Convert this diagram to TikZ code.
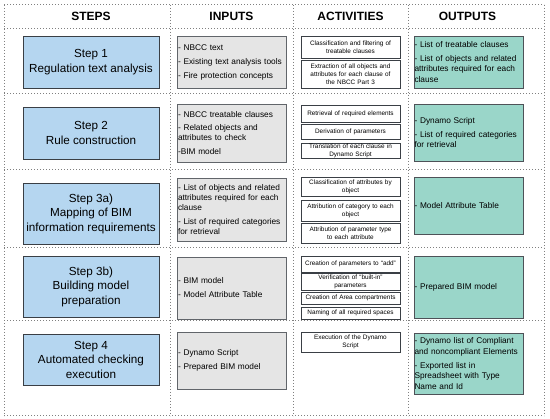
\documentclass[tikz,border=0pt]{standalone}
\usepackage{fontspec}
\setmainfont{Liberation Sans}
\hyphenpenalty=10000
\exhyphenpenalty=10000
\definecolor{stepfill}{HTML}{B5D6F0}
\definecolor{outfill}{HTML}{9AD6C9}
\definecolor{infill}{HTML}{E5E5E5}
\definecolor{boxline}{HTML}{3A3F45}
\definecolor{gridline}{HTML}{808080}
\begin{document}
\begin{tikzpicture}[x=1pt,y=-1pt,
  gridl/.style={draw=gridline, line width=1pt, dash pattern=on 1pt off 2pt},
  hdr/.style={font=\fontsize{12}{14}\selectfont\bfseries, inner sep=0pt},
  stepbox/.style={draw=boxline, line width=0.9pt, fill=stepfill, minimum width=136pt, inner sep=0pt, align=center, font=\fontsize{11.7}{14.5}\selectfont},
  inbox/.style={draw=boxline!80, line width=0.9pt, fill=infill, minimum width=109pt, text width=107pt, inner xsep=1pt, inner ysep=0pt, align=left, font=\fontsize{8.3}{10}\selectfont},
  actbox/.style={draw=boxline, line width=0.9pt, fill=white, minimum width=99pt, text width=99pt, inner xsep=0pt, inner ysep=0pt, align=center, font=\fontsize{6.4}{8}\selectfont},
  outbox/.style={draw=boxline!90, line width=0.9pt, fill=outfill, minimum width=109pt, text width=108pt, inner xsep=0.5pt, inner ysep=0pt, align=left, font=\fontsize{8.3}{10.5}\selectfont}
]
\useasboundingbox (0,0) rectangle (550,419);
% grid
\foreach \yy in {5,29,94,170,248,321,416} \draw[gridl] (4,\yy) -- (544,\yy);
\foreach \xx in {4,170,293,408,544} \draw[gridl] (\xx,5) -- (\xx,416);
% headers
\node[hdr] (h1) at (91,16.5) {STEPS};
\node[hdr] (h2) at (231.5,16.5) {INPUTS};
\node[hdr] (h3) at (350.5,16.5) {ACTIVITIES};
\node[hdr] (h4) at (467.5,16.5) {OUTPUTS};
% steps
\node[stepbox, minimum height=52pt] (s1) at (91,62) {Step 1\\Regulation text analysis};
\node[stepbox, minimum height=52pt] (s2) at (91,133) {Step 2\\Rule construction};
\node[stepbox, minimum height=61pt] (s3) at (91,213.5) {Step 3a)\\Mapping of BIM\\information requirements};
\node[stepbox, minimum height=61pt] (s4) at (91,286.5) {Step 3b)\\Building model\\preparation};
\node[stepbox, minimum height=51pt] (s5) at (91,359.5) {Step 4\\Automated checking\\execution};
% inputs
\node[inbox, minimum height=52pt] (i1) at (231.5,62) {- NBCC text\\[4pt]- Existing text analysis tools\\[4pt]- Fire protection concepts};
\node[inbox, minimum height=58pt] (i2) at (231.5,133) {- NBCC treatable clauses\\[3pt]- Related objects and\\attributes to check\\[3.5pt]-BIM model};
\node[inbox, minimum height=63pt] (i3) at (231.5,209.5) {- List of objects and related\\attributes required for each\\clause\\[4.5pt]- List of required categories\\for retrieval};
\node[inbox, minimum height=62pt] (i4) at (231.5,288) {- BIM model\\[4pt]- Model Attribute Table};
\node[inbox, minimum height=57pt] (i5) at (231.5,360.5) {- Dynamo Script\\[4pt]- Prepared BIM model};
% activities
\node[actbox, minimum height=22pt] (a11) at (350.5,47) {Classification and filtering of\\treatable clauses};
\node[actbox, minimum height=28pt] (a12) at (350.5,74) {Extraction of all objects and\\attributes for each clause of\\the NBCC Part 3};
\node[actbox, minimum height=17pt] (a21) at (350.5,113.5) {Retrieval of required elements};
\node[actbox, minimum height=15pt] (a22) at (350.5,131.5) {Derivation of parameters};
\node[actbox, minimum height=15pt] (a23) at (350.5,150.5) {Translation of each clause in\\Dynamo Script};
\node[actbox, minimum height=19pt] (a31) at (350.5,186.5) {Classification of attributes by\\object};
\node[actbox, minimum height=21pt] (a32) at (350.5,210.5) {Attribution of category to each\\object};
\node[actbox, minimum height=20pt] (a33) at (350.5,233) {Attribution of parameter type\\to each attribute};
\node[actbox, minimum height=16pt] (a41) at (350.5,264) {Creation of parameters to ``add''};
\node[actbox, minimum height=17pt] (a42) at (350.5,281.5) {Verification of ``built-in''\\parameters};
\node[actbox, minimum height=12pt] (a43) at (350.5,298) {Creation of Area compartments};
\node[actbox, minimum height=12pt] (a44) at (350.5,313) {Naming of all required spaces};
\node[actbox, minimum height=20pt] (a51) at (350.5,342) {Execution of the Dynamo\\Script};
% outputs
\node[outbox, minimum height=52pt] (o1) at (468.5,62) {- List of treatable clauses\\[3.5pt]- List of objects and related\\attributes required for each\\clause};
\node[outbox, minimum height=57pt] (o2) at (468.5,132.5) {- Dynamo Script\\[3.5pt]- List of required categories\\for retrieval};
\node[outbox, minimum height=57pt] (o3) at (468.5,205.5) {- Model Attribute Table};
\node[outbox, minimum height=62pt] (o4) at (468.5,287) {- Prepared BIM model};
\node[outbox, minimum height=61pt] (o5) at (468.5,363.5) {- Dynamo list of Compliant\\and noncompliant Elements\\[3.5pt]- Exported list in\\Spreadsheet with Type\\Name and Id};
\end{tikzpicture}
\end{document}
